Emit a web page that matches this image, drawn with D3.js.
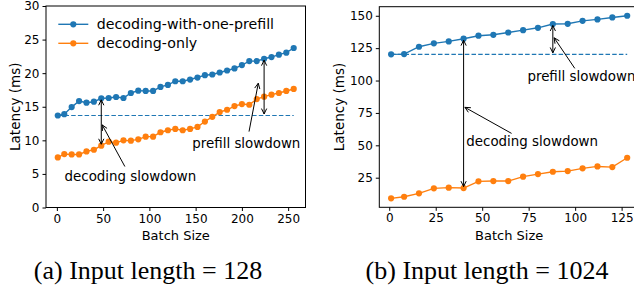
<!DOCTYPE html>
<html>
<head>
<meta charset="utf-8">
<script src="https://cdn.jsdelivr.net/npm/d3@7"></script>
<style>
  body { margin: 0; background: #fff; }
  svg { display: block; font-family: "DejaVu Sans", sans-serif; }
  .caption { font-family: "Liberation Serif", "Times New Roman", serif; }
</style>
</head>
<body>
<svg id="chart" width="634" height="287"></svg>
<script>
// batch sizes
const batchA = [1, 8, 16, 24, 32, 40, 48, 56, 64, 72, 80, 88, 96, 104, 112, 120, 128,
  136, 144, 152, 160, 168, 176, 184, 192, 200, 208, 216, 224, 232, 240, 248, 256];
const batchB = [1, 8, 16, 24, 32, 40, 48, 56, 64, 72, 80, 88, 96, 104, 112, 120, 128];

// latency (ms), input length 128
const withPrefillA = [13.7, 13.9, 14.95, 15.85, 15.6, 15.75, 16.25, 16.3, 16.45, 16.3, 17.05,
  17.4, 17.35, 17.35, 17.95, 18.25, 18.8, 18.8, 19.05, 19.35, 19.7, 19.8, 20.1, 20.4, 20.7,
  21.2, 21.8, 21.8, 22.15, 22.4, 22.75, 23.05, 23.75];
const decodeOnlyA = [7.45, 7.95, 7.9, 7.9, 8.35, 8.6, 9.2, 9.8, 9.65, 10.0, 9.95, 10.15,
  10.55, 10.55, 11.2, 11.5, 11.7, 11.5, 11.7, 12.0, 12.8, 13.5, 14.2, 14.55, 15.1, 15.4,
  15.3, 16.15, 16.5, 16.8, 17.05, 17.35, 17.65];

// latency (ms), input length 1024
const withPrefillB = [120.2, 120.4, 126.1, 128.7, 130.2, 132.3, 134.6, 135.3, 137.1, 138.9,
  140.7, 143.6, 143.8, 146.1, 147.2, 148.7, 150.0];
const decodeOnlyB = [9.05, 10.3, 12.9, 16.8, 17.3, 17.0, 22.2, 22.4, 22.4, 25.8, 27.8, 29.6,
  30.1, 32.2, 33.7, 33.2, 40.4];

const xTicksA = [0, 50, 100, 150, 200, 250];
const yTicksA = [0, 5, 10, 15, 20, 25, 30];
const xTicksB = [0, 25, 50, 75, 100, 125];
const yTicksB = [25, 50, 75, 100, 125, 150];

const seriesNames = ['decoding-with-one-prefill', 'decoding-only'];
const captions = ['(a) Input length = 128', '(b) Input length = 1024'];

// annotations in data units: double arrow at x between y1,y2; label with pointer
const annotA = [
  { text: 'decoding slowdown', at: 48, y1: 16.25, y2: 9.2, tx: 79.5, ty: 4.7, tail: [73.5, 6.1], head: [49, 12.3] },
  { text: 'prefill slowdown', at: 224, y1: 22.15, y2: 13.7, tx: 204.8, ty: 9.55, tail: [207.7, 11.3], head: [217.7, 18.5] }
];
const annotB = [
  { text: 'decoding slowdown', at: 40, y1: 132.3, y2: 17.0, tx: 76.9, ty: 53.3, tail: [65.8, 59.2], head: [40.7, 79.3] },
  { text: 'prefill slowdown', at: 88, y1: 143.6, y2: 120.2, tx: 103.4, ty: 103.4, tail: [99.8, 109.4], head: [88.7, 133] }
];

const blue = '#1f77b4', orange = '#ff7f0e';
const svg = d3.select('#chart');

function arrowHead(g, x0, y0, x1, y1) {
  // open "->" head at (x1, y1)
  const a = Math.atan2(y1 - y0, x1 - x0), len = 6, spread = 0.45;
  const p = [
    [x1 - len * Math.cos(a - spread), y1 - len * Math.sin(a - spread)],
    [x1, y1],
    [x1 - len * Math.cos(a + spread), y1 - len * Math.sin(a + spread)]
  ];
  g.append('path').attr('d', d3.line()(p))
    .attr('fill', 'none').attr('stroke', '#000').attr('stroke-width', 1);
}

function panel(opt) {
  const x = d3.scaleLinear().domain(opt.xdom).range(opt.xr);
  const y = d3.scaleLinear().domain(opt.ydom).range(opt.yr);
  const g = svg.append('g');

  const xaxis = g.append('g').attr('transform', `translate(0,${opt.yr[0]})`)
    .call(d3.axisBottom(x).tickValues(opt.xticks).tickSize(3.5).tickPadding(3));
  const yaxis = g.append('g').attr('transform', `translate(${opt.xr[0]},0)`)
    .call(d3.axisLeft(y).tickValues(opt.yticks).tickSize(3.5).tickPadding(3));
  [xaxis, yaxis].forEach(a => {
    a.select('.domain').remove();
    a.selectAll('text').attr('font-size', 12).attr('fill', '#000')
      .attr('font-family', '"DejaVu Sans", sans-serif');
    a.selectAll('line').attr('stroke', '#000');
  });

  g.append('rect')
    .attr('x', opt.xr[0]).attr('y', opt.yr[1])
    .attr('width', opt.xr[1] - opt.xr[0]).attr('height', opt.yr[0] - opt.yr[1])
    .attr('fill', 'none').attr('stroke', '#000').attr('stroke-width', 1);

  const cx = (opt.xr[0] + opt.xr[1]) / 2, cy = (opt.yr[0] + opt.yr[1]) / 2;
  g.append('text').attr('x', cx).attr('y', 240).attr('text-anchor', 'middle')
    .attr('font-size', 13).text('Batch Size');
  g.append('text').attr('transform', `translate(${opt.xr[0] - opt.ylabOff},${cy}) rotate(-90)`)
    .attr('dy', '0.35em').attr('text-anchor', 'middle').attr('font-size', 13.5).text('Latency (ms)');

  // baseline (dashed) at first with-prefill value
  g.append('path')
    .attr('d', d3.line()([[x(opt.batch[0]), y(opt.blue[0])], [x(opt.batch[opt.batch.length - 1]), y(opt.blue[0])]]))
    .attr('stroke', blue).attr('stroke-width', 1.2).attr('stroke-dasharray', '4.5,2.2');

  const line = d3.line().x((d, i) => x(opt.batch[i])).y(d => y(d));
  [[opt.blue, blue], [opt.orange, orange]].forEach(([vals, col]) => {
    g.append('path').attr('d', line(vals)).attr('fill', 'none')
      .attr('stroke', col).attr('stroke-width', 1.4);
    g.selectAll(null).data(vals).enter().append('circle')
      .attr('cx', (d, i) => x(opt.batch[i])).attr('cy', d => y(d))
      .attr('r', 3.1).attr('fill', col);
  });

  opt.annot.forEach(a => {
    const ax = x(a.at), ay1 = y(a.y1) + 1.5, ay2 = y(a.y2) - 1.5;
    g.append('line').attr('x1', ax).attr('x2', ax).attr('y1', ay1).attr('y2', ay2)
      .attr('stroke', '#000').attr('stroke-width', 1);
    arrowHead(g, ax, ay2, ax, ay1);
    arrowHead(g, ax, ay1, ax, ay2);
    const t0 = [x(a.tail[0]), y(a.tail[1])], h = [x(a.head[0]), y(a.head[1])];
    g.append('line').attr('x1', t0[0]).attr('y1', t0[1]).attr('x2', h[0]).attr('y2', h[1])
      .attr('stroke', '#000').attr('stroke-width', 1);
    arrowHead(g, t0[0], t0[1], h[0], h[1]);
    g.append('text').attr('x', x(a.tx)).attr('y', y(a.ty)).attr('dy', '0.35em')
      .attr('text-anchor', 'middle').attr('font-size', 13.4).text(a.text);
  });

  if (opt.legend) {
    [[blue, 24.3], [orange, 43.3]].forEach(([col, ly], i) => {
      g.append('line').attr('x1', 58.3).attr('x2', 88.3).attr('y1', ly).attr('y2', ly)
        .attr('stroke', col).attr('stroke-width', 1.4);
      g.append('circle').attr('cx', 73.3).attr('cy', ly).attr('r', 3.1).attr('fill', col);
      g.append('text').attr('x', 96.7).attr('y', ly).attr('dy', '0.35em')
        .attr('font-size', 14.2).text(seriesNames[i]);
    });
  }

  svg.append('text').attr('class', 'caption').attr('x', opt.capx).attr('y', 279)
    .attr('text-anchor', 'middle').attr('font-size', 26).text(opt.caption);
}

panel({
  batch: batchA, blue: withPrefillA, orange: decodeOnlyA,
  xdom: [-11.75, 268.75], xr: [46, 305.5], ydom: [0, 30], yr: [207.5, 6],
  xticks: xTicksA, yticks: yTicksA, annot: annotA, legend: true, ylabOff: 31,
  caption: captions[0], capx: 148
});
panel({
  batch: batchB, blue: withPrefillB, orange: decodeOnlyB,
  xdom: [-5.35, 134.35], xr: [379.3, 639], ydom: [2.15, 157], yr: [207.3, 6.7],
  xticks: xTicksB, yticks: yTicksB, annot: annotB, legend: false, ylabOff: 40,
  caption: captions[1], capx: 487
});
</script>
</body>
</html>
